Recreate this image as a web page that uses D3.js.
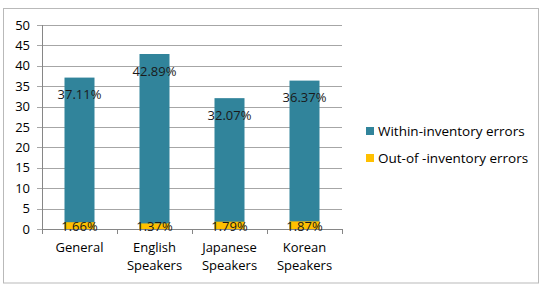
<!DOCTYPE html>
<html><head><meta charset="utf-8">
<script src="https://cdn.jsdelivr.net/npm/d3@7"></script>
<style>body{margin:0;background:#fff}svg{display:block}text{font-family:"Open Sans",sans-serif}</style>
</head><body><svg id="c" width="542" height="285"></svg>
<script>
const categories = [["General"], ["English","Speakers"], ["Japanese","Speakers"], ["Korean","Speakers"]];
const withinValues = [37.11, 42.89, 32.07, 36.37];
const outValues = [1.66, 1.37, 1.79, 1.87];
const seriesNames = ["Within-inventory errors", "Out-of -inventory errors"];
const yTicks = [0,5,10,15,20,25,30,35,40,45,50];
const colors = ["#31849B", "#FFC000"];

const svg = d3.select("#c");
const pL = 42, pR = 342, pT = 25, pB = 229;
const fs = 13;
svg.append("rect").attr("x",3.5).attr("y",8.5).attr("width",535).attr("height",274.5)
  .attr("fill","#fff").attr("stroke","#b9b9b9").attr("stroke-width",1);

const x = d3.scaleBand().domain(d3.range(categories.length)).range([pL,pR]).paddingInner(0).paddingOuter(0);
const y = d3.scaleLinear().domain([0,50]).range([pB,pT]);

// gridlines
svg.append("g").selectAll("line").data(yTicks).join("line")
  .attr("x1",pL-5).attr("x2",pR).attr("y1",d=>Math.round(y(d))+0.5).attr("y2",d=>Math.round(y(d))+0.5)
  .attr("stroke","#a6a6a6").attr("stroke-width",1);
svg.append("g").selectAll("text").data(yTicks).join("text")
  .attr("x",30).attr("y",d=>y(d)).attr("dy","0.35em").attr("text-anchor","end")
  .attr("font-size",fs).attr("fill","#000").text(d=>d);

const bw = 30;
const bx = i => x(i) + x.bandwidth()/2 - bw/2;
svg.append("g").selectAll("rect").data(withinValues).join("rect")
  .attr("x",(d,i)=>bx(i)).attr("width",bw).attr("y",d=>y(d)).attr("height",d=>pB-y(d)).attr("fill",colors[0]);
svg.append("g").selectAll("rect").data(outValues).join("rect")
  .attr("x",(d,i)=>bx(i)).attr("width",bw).attr("y",d=>y(d)).attr("height",d=>pB-y(d)).attr("fill",colors[1]);

// axes lines
svg.append("line").attr("x1",pL+0.5).attr("x2",pL+0.5).attr("y1",pT).attr("y2",pB).attr("stroke","#868686");
svg.append("line").attr("x1",pL).attr("x2",pR).attr("y1",pB+0.5).attr("y2",pB+0.5).attr("stroke","#868686");
svg.append("g").selectAll("line").data(d3.range(categories.length+1)).join("line")
  .attr("x1",i=>Math.round(pL+i*x.bandwidth())+0.5).attr("x2",i=>Math.round(pL+i*x.bandwidth())+0.5)
  .attr("y1",pB).attr("y2",pB+5).attr("stroke","#868686");

// data labels
svg.append("g").selectAll("text").data(withinValues).join("text")
  .attr("x",(d,i)=>x(i)+x.bandwidth()/2).attr("y",d=>y(d)+17).attr("dy","0.35em").attr("text-anchor","middle")
  .attr("font-size",fs).attr("fill","#1a1a1a").text(d=>d.toFixed(2)+"%");
svg.append("g").selectAll("text").data(outValues).join("text")
  .attr("x",(d,i)=>x(i)+x.bandwidth()/2).attr("y",pB-3).attr("dy","0.35em").attr("text-anchor","middle")
  .attr("font-size",fs).attr("fill","#1a1a1a").text(d=>d.toFixed(2)+"%");

// category labels
const cl = svg.append("g").selectAll("text").data(categories).join("text")
  .attr("x",(d,i)=>x(i)+x.bandwidth()/2).attr("y",247).attr("text-anchor","middle")
  .attr("font-size",fs).attr("fill","#000");
cl.selectAll("tspan").data(d=>d).join("tspan").attr("x",function(){return this.parentNode.getAttribute("x");})
  .attr("dy",(d,j)=>j===0?"0.35em":"1.4em").text(d=>d);

// legend
const lg = svg.append("g").selectAll("g").data(seriesNames).join("g")
  .attr("transform",(d,i)=>`translate(366,${131+i*27})`);
lg.append("rect").attr("x",0).attr("y",-4).attr("width",8).attr("height",8).attr("fill",(d,i)=>colors[i]);
lg.append("text").attr("x",12).attr("y",0).attr("dy","0.35em").attr("font-size",fs+0.5).attr("fill","#000").text(d=>d);
</script></body></html>
